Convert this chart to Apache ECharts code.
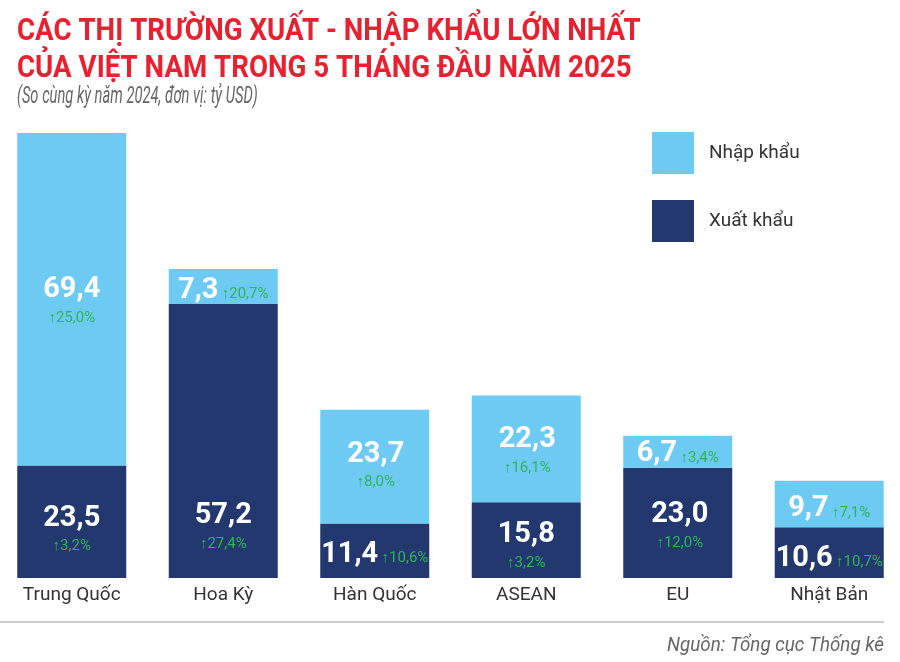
<!DOCTYPE html>
<html>
<head>
<meta charset="utf-8">
<style>html,body{margin:0;padding:0;background:#fff}#main{width:900px;height:662px}</style>
<script src="https://cdn.jsdelivr.net/npm/echarts@6/dist/echarts.min.js"></script>
</head>
<body>
<div id="main"></div>
<script>
const categories = ["Trung Quốc", "Hoa Kỳ", "Hàn Quốc", "ASEAN", "EU", "Nhật Bản"];
const exportValues = [23.5, 57.2, 11.4, 15.8, 23.0, 10.6];
const importValues = [69.4, 7.3, 23.7, 22.3, 6.7, 9.7];
const exportChange = ["3,2", "27,4", "10,6", "3,2", "12,0", "10,7"];
const importChange = ["25,0", "20,7", "8,0", "16,1", "3,4", "7,1"];

// label nudges, the reference does not centre them in the segments
const exportNudge = [[0, 8], [0, 86], [0, 4], [0, 6], [2, 3], [0, 6]];
const importNudge = [[0, 2], [0, 4], [1, -1], [1, 2], [0, 2], [0, 5]];

const font = "Roboto, sans-serif";
const myChart = echarts.init(document.getElementById("main"));

function buildData(values, changes, nudge) {
  return values.map(function (value, i) {
    const v = value.toFixed(1).replace(".", ",");
    // short segments put the change next to the value
    const text = value < 12
      ? "{v|" + v + "} {pi|↑" + changes[i] + "%}"
      : "{v|" + v + "}\n{p|↑" + changes[i] + "%}";
    return { value: value, label: { formatter: text, offset: nudge[i] } };
  });
}

const seriesLabel = {
  show: true,
  position: "inside",
  rich: {
    v: { fontFamily: font, fontWeight: "bold", fontSize: 29, color: "#fff", lineHeight: 34 },
    p: { fontFamily: font, fontSize: 15, color: "#2fb457", lineHeight: 22 },
    pi: { fontFamily: font, fontSize: 15, color: "#2fb457", lineHeight: 22, padding: [8, 0, 0, 0] },
  },
};

const option = {
  animation: false,
  legend: {
    data: ["Nhập khẩu", "Xuất khẩu"],
    orient: "vertical",
    left: 652,
    top: 132,
    padding: 0,
    icon: "rect",
    itemWidth: 42,
    itemHeight: 42,
    itemGap: 26,
    selectedMode: false,
    textStyle: { fontFamily: font, fontSize: 19, color: "#333", padding: [4, 0, 0, 10] },
  },
  grid: { left: -4, width: 909, top: 99, bottom: 84, outerBoundsMode: "none" },
  xAxis: {
    type: "category",
    data: categories,
    axisTick: { show: false },
    axisLine: { show: false },
    axisLabel: { fontFamily: font, fontSize: 19, color: "#333", margin: 8 },
  },
  yAxis: { type: "value", min: 0, max: 100, show: false },
  series: [
    {
      name: "Xuất khẩu",
      type: "bar",
      stack: "total",
      barWidth: 109,
      itemStyle: { color: "#22386f" },
      label: seriesLabel,
      data: buildData(exportValues, exportChange, exportNudge),
    },
    {
      name: "Nhập khẩu",
      type: "bar",
      stack: "total",
      barWidth: 109,
      itemStyle: { color: "#6dcbf3" },
      label: seriesLabel,
      data: buildData(importValues, importChange, importNudge),
    },
  ],
  graphic: [
    {
      type: "text",
      x: 17,
      y: 14,
      scaleX: 0.893,
      style: {
        text: "CÁC THỊ TRƯỜNG XUẤT - NHẬP KHẨU LỚN NHẤT\nCỦA VIỆT NAM TRONG 5 THÁNG ĐẦU NĂM 2025",
        font: "bold 31px Roboto, sans-serif",
        lineHeight: 37,
        verticalAlign: "top",
        fill: "#e8202f",
      },
    },
    {
      type: "text",
      x: 17,
      y: 97,
      scaleX: 0.64,
      style: {
        text: "(So cùng kỳ năm 2024, đơn vị: tỷ USD)",
        font: "italic 23px Roboto, sans-serif",
        verticalAlign: "middle",
        fill: "#666",
      },
    },
    {
      type: "line",
      shape: { x1: 0, y1: 622, x2: 884, y2: 622 },
      style: { stroke: "#cccccc", lineWidth: 2 },
    },
    {
      type: "text",
      x: 884,
      y: 646,
      scaleX: 0.94,
      style: {
        text: "Nguồn: Tổng cục Thống kê",
        align: "right",
        verticalAlign: "middle",
        font: "italic 20px Roboto, sans-serif",
        fill: "#666",
      },
    },
  ],
};

myChart.setOption(option);
</script>
</body>
</html>
